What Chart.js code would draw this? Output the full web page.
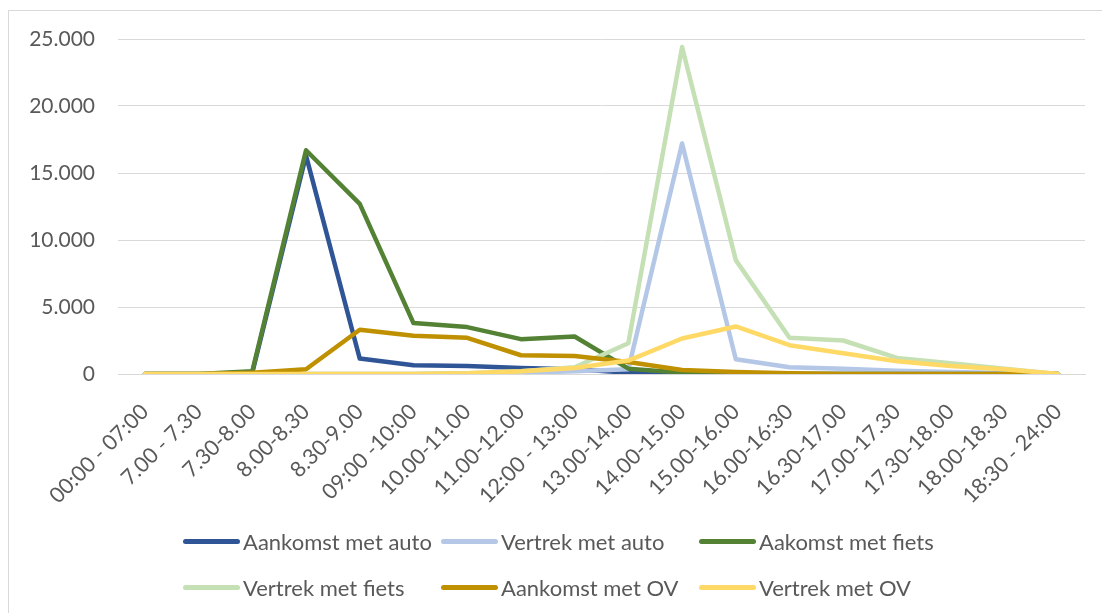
<!DOCTYPE html>
<html>
<head>
<meta charset="utf-8">
<script src="https://cdn.jsdelivr.net/npm/chart.js@4"></script>
<style>
  body { margin: 0; background: #fff; overflow: hidden; font-family: Lato, 'Open Sans', sans-serif; }
  #wrap { position: absolute; left: 8px; top: 10px; width: 1094px; height: 603px;
          border-left: 1px solid #d9d9d9; border-top: 1px solid #d9d9d9; }
  #legenda { position: absolute; left: 183px; top: 524px; display: grid;
             grid-template-columns: 258px 258px 258px; grid-auto-rows: 46px; }
  .item { display: flex; align-items: center; height: 34px; font-size: 22px; color: #595959; white-space: nowrap; }
  .lijn { width: 57px; height: 5px; border-radius: 3px; margin-right: 3px; }
</style>
</head>
<body>
<div id="wrap"><canvas id="myChart"></canvas></div>
<div id="legenda"></div>
<script>
// tijdvakken
const tijdvakken = ["00:00 - 07:00", "7.00 - 7.30", "7.30-8.00", "8.00-8.30", "8.30-9.00", "09:00 -10:00",
  "10.00-11.00", "11.00-12.00", "12:00 - 13:00", "13.00-14.00", "14.00-15.00", "15.00-16.00",
  "16.00-16:30", "16.30-17.00", "17.00-17.30", "17.30-18.00", "18.00-18.30", "18:30 - 24:00"];

const aankomst_auto  = [0, 0, 100, 16300, 1150, 650, 600, 450, 350, 100, 50, 0, 0, 0, 0, 0, 0, 0];
const vertrek_auto   = [0, 0, 0, 0, 0, 0, 50, 100, 200, 350, 17200, 1100, 500, 400, 250, 150, 80, 0];
const aankomst_fiets = [0, 0, 200, 16700, 12700, 3800, 3500, 2600, 2800, 400, 100, 0, 0, 0, 0, 0, 0, 0];
const vertrek_fiets  = [0, 0, 0, 0, 0, 0, 50, 200, 500, 2300, 24400, 8500, 2700, 2500, 1200, 800, 400, 0];
const aankomst_ov    = [0, 0, 100, 350, 3300, 2850, 2700, 1400, 1350, 900, 300, 150, 50, 0, 0, 0, 0, 0];
const vertrek_ov     = [0, 0, 0, 0, 0, 0, 50, 200, 450, 1000, 2650, 3550, 2150, 1550, 950, 600, 350, 0];

const reeksen = ["Aankomst met auto", "Vertrek met auto", "Aakomst met fiets",
  "Vertrek met fiets", "Aankomst met OV", "Vertrek met OV"];
const kleuren = ["#2f5597", "#b4c7e7", "#548235", "#c5e0b4", "#bf9000", "#ffd966"];
const waarden = [aankomst_auto, vertrek_auto, aankomst_fiets, vertrek_fiets, aankomst_ov, vertrek_ov];

function punt(v) {
  return String(v).replace(/\B(?=(\d{3})+(?!\d))/g, ".");
}

Chart.defaults.font.family = "Lato, 'Open Sans', sans-serif";
Chart.defaults.color = "#595959";

var ctx = document.getElementById("myChart").getContext("2d");
var chart = new Chart(ctx, {
  type: "line",
  data: {
    labels: tijdvakken,
    datasets: reeksen.map(function (naam, i) {
      return {
        label: naam,
        data: waarden[i],
        borderColor: kleuren[i],
        backgroundColor: kleuren[i],
        borderWidth: 4.5,
        pointRadius: 0,
        tension: 0,
        borderJoinStyle: "round",
        borderCapStyle: "round",
        order: reeksen.length - i  // laatste reeks bovenop, zoals in Excel
      };
    })
  },
  options: {
    responsive: true,
    maintainAspectRatio: false,
    animation: false,
    layout: { padding: { left: 9, right: 18, top: 28, bottom: 0 } },
    plugins: {
      tooltip: { enabled: false },
      legend: { display: false }
    },
    scales: {
      x: {
        offset: true,
        grid: { display: false, drawTicks: false },
        border: { color: "#d9d9d9" },
        ticks: { maxRotation: 45, minRotation: 45, autoSkip: false, padding: 25, font: { size: 21.5 } },
        afterFit: function (s) { s.height = 240; }
      },
      y: {
        min: 0,
        max: 25000,
        grid: { color: "#d9d9d9", drawTicks: false },
        border: { display: false },
        ticks: { stepSize: 5000, padding: 23, font: { size: 21 }, callback: function (v) { return punt(v); } },
        afterFit: function (s) { s.width = 100; s.paddingTop = 10; s.paddingBottom = 10; }
      }
    }
  }
});

// legenda in drie kolommen, zoals in Excel
var leg = document.getElementById("legenda");
chart.data.datasets.forEach(function (ds) {
  var item = document.createElement("div");
  item.className = "item";
  var lijn = document.createElement("span");
  lijn.className = "lijn";
  lijn.style.background = ds.borderColor;
  item.appendChild(lijn);
  item.appendChild(document.createTextNode(ds.label));
  leg.appendChild(item);
});
</script>
</body>
</html>
